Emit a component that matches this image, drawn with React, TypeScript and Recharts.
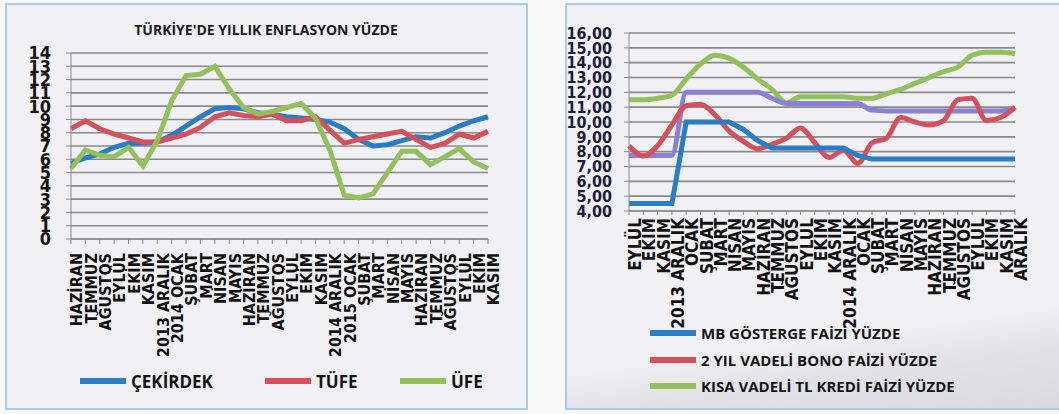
import React from "react";
import { LineChart, Line, XAxis, YAxis, CartesianGrid, Legend } from "recharts";

// Left chart: annual inflation, June 2013 - November 2015
const leftMonths = [
  "HAZİRAN", "TEMMUZ", "AĞUSTOS", "EYLÜL", "EKİM", "KASIM", "2013 ARALIK",
  "2014 OCAK", "ŞUBAT", "MART", "NİSAN", "MAYIS", "HAZİRAN", "TEMMUZ",
  "AĞUSTOS", "EYLÜL", "EKİM", "KASIM", "2014 ARALIK", "2015 OCAK", "ŞUBAT",
  "MART", "NİSAN", "MAYIS", "HAZİRAN", "TEMMUZ", "AĞUSTOS", "EYLÜL", "EKİM", "KASIM",
];
const cekirdek = [5.7, 6.1, 6.4, 6.9, 7.2, 7.2, 7.3, 7.8, 8.5, 9.2, 9.8, 9.9, 9.8, 9.5, 9.4, 9.2, 9.1, 9.0, 8.8, 8.3, 7.5, 7.0, 7.1, 7.4, 7.7, 7.6, 8.0, 8.5, 8.9, 9.2];
const tufe = [8.3, 8.9, 8.3, 7.9, 7.6, 7.3, 7.3, 7.6, 7.9, 8.4, 9.2, 9.5, 9.3, 9.2, 9.4, 8.9, 8.9, 9.2, 8.2, 7.2, 7.5, 7.7, 7.9, 8.1, 7.5, 6.9, 7.2, 7.9, 7.6, 8.1];
const ufe = [5.3, 6.7, 6.3, 6.2, 6.9, 5.5, 7.4, 10.4, 12.3, 12.4, 13.0, 11.3, 9.9, 9.4, 9.6, 9.9, 10.2, 9.1, 6.7, 3.3, 3.1, 3.4, 5.0, 6.6, 6.6, 5.6, 6.2, 6.8, 5.8, 5.3];
const leftTicks = [0, 1, 2, 3, 4, 5, 6, 7, 8, 9, 10, 11, 12, 13, 14];

// Right chart: interest rates, September 2013 - December 2015
const rightMonths = [
  "EYLÜL", "EKİM", "KASIM", "2013 ARALIK", "OCAK", "ŞUBAT", "MART", "NİSAN",
  "MAYIS", "HAZİRAN", "TEMMUZ", "AĞUSTOS", "EYLÜL", "EKİM", "KASIM",
  "2014 ARALIK", "OCAK", "ŞUBAT", "MART", "NİSAN", "MAYIS", "HAZİRAN",
  "TEMMUZ", "AĞUSTOS", "EYLÜL", "EKİM", "KASIM", "ARALIK",
];
const mbFaiz = [4.5, 4.5, 4.5, 4.5, 10, 10, 10, 10, 9.5, 8.75, 8.25, 8.25, 8.25, 8.25, 8.25, 8.25, 7.75, 7.5, 7.5, 7.5, 7.5, 7.5, 7.5, 7.5, 7.5, 7.5, 7.5, 7.5];
const bonoFaiz = [8.4, 7.7, 8.4, 9.8, 11.1, 11.2, 10.5, 9.4, 8.7, 8.2, 8.5, 8.9, 9.6, 8.6, 7.6, 8.1, 7.2, 8.6, 8.9, 10.3, 10.0, 9.8, 10.1, 11.5, 11.6, 10.1, 10.3, 11.0];
const krediFaiz = [11.5, 11.5, 11.6, 11.8, 12.9, 13.9, 14.5, 14.3, 13.7, 12.9, 12.2, 11.3, 11.7, 11.7, 11.7, 11.7, 11.6, 11.6, 11.9, 12.2, 12.6, 13.0, 13.4, 13.7, 14.5, 14.7, 14.7, 14.6];
const ustBant = [7.75, 7.75, 7.75, 7.75, 12, 12, 12, 12, 12, 12, 11.6, 11.25, 11.25, 11.25, 11.25, 11.25, 11.25, 10.8, 10.75, 10.75, 10.75, 10.75, 10.75, 10.75, 10.75, 10.75, 10.75, 10.9];
const rightTicks = [4, 5, 6, 7, 8, 9, 10, 11, 12, 13, 14, 15, 16];

const leftData = leftMonths.map((m, i) => ({ m, cekirdek: cekirdek[i], tufe: tufe[i], ufe: ufe[i] }));
const rightData = rightMonths.map((m, i) => ({ m, mb: mbFaiz[i], bono: bonoFaiz[i], kredi: krediFaiz[i], bant: ustBant[i] }));

const BLUE = "#2a7cc3";
const RED = "#d5505d";
const GREEN = "#93c05b";
const PURPLE = "#8a80d4";

const leftLegend = [
  { label: "ÇEKİRDEK", color: BLUE, x: 80 },
  { label: "TÜFE", color: RED, x: 265 },
  { label: "ÜFE", color: GREEN, x: 400 },
];
const rightLegend = [
  { label: "MB GÖSTERGE FAİZİ YÜZDE", color: BLUE },
  { label: "2 YIL VADELİ BONO FAİZİ YÜZDE", color: RED },
  { label: "KISA VADELİ TL KREDİ FAİZİ YÜZDE", color: GREEN },
];

const narrow = "'Liberation Sans Narrow', 'DejaVu Sans Condensed', sans-serif";
const legendFont = "'Open Sans', sans-serif";

const LeftLegendContent = () => (
  <div style={{ position: "relative", width: 530, height: 24 }}>
    {leftLegend.map((it) => (
      <div key={it.label} style={{ position: "absolute", left: it.x, top: 0, height: 24, display: "flex", alignItems: "center" }}>
        <span style={{ display: "inline-block", width: 46, height: 6, background: it.color, marginRight: 5 }} />
        <span style={{ fontFamily: legendFont, fontWeight: 700, fontSize: 17, color: "#151515" }}>{it.label}</span>
      </div>
    ))}
  </div>
);

const RightLegendContent = () => (
  <div style={{ position: "relative", width: 499, height: 80 }}>
    {rightLegend.map((it, i) => (
      <div key={it.label} style={{ position: "absolute", left: 90, top: i * 26.5, height: 26, display: "flex", alignItems: "center" }}>
        <span style={{ display: "inline-block", width: 46, height: 6, background: it.color, marginRight: 5 }} />
        <span style={{ fontFamily: legendFont, fontWeight: 700, fontSize: 15, color: "#151515" }}>{it.label}</span>
      </div>
    ))}
  </div>
);

const App: React.FC = () => {
  return (
    <div style={{ position: "absolute", left: 0, top: 0, width: 1059, height: 414, background: "#f8f8f9", overflow: "hidden" }}>
      <div style={{ position: "absolute", left: 5, top: 3, width: 523, height: 407, boxSizing: "border-box", border: "2px solid #a3cdea", background: "#f1f0f4" }} />
      <div style={{ position: "absolute", left: 565, top: 3, width: 500, height: 407, boxSizing: "border-box", border: "2px solid #a3cdea", background: "linear-gradient(172deg, #f1f0f4 78%, #e2e2e8 86%, #d9dae0 100%)" }} />

      <div style={{ position: "absolute", left: 0, top: 20, width: 532, textAlign: "center", fontFamily: legendFont, fontWeight: 700, fontSize: 14, color: "#1a1a1a" }}>
        TÜRKİYE'DE YILLIK ENFLASYON YÜZDE
      </div>

      <div style={{ position: "absolute", left: 0, top: 0 }}>
        <LineChart width={530} height={414} data={leftData} margin={{ top: 53, right: 42, left: 31, bottom: 21 }}>
          <CartesianGrid vertical={false} stroke="#8a8a8a" strokeWidth={1.6} />
          <XAxis
            dataKey="m"
            interval={0}
            height={130}
            tickSize={5}
            tickMargin={9}
            stroke="#8a8a8a"
            angle={-90}
            textAnchor="end"
            tick={{ angle: -90, textAnchor: "end", verticalAnchor: "middle", fontFamily: narrow, fontWeight: 700, fontSize: 16, fill: "#111" }}
          />
          <YAxis
            domain={[0, 14]}
            ticks={leftTicks}
            interval={0}
            width={40}
            tickSize={5}
            tickMargin={15}
            stroke="#8a8a8a"
            tick={{ fontFamily: narrow, fontWeight: 700, fontSize: 18, fill: "#151515" }}
          />
          <Legend verticalAlign="bottom" wrapperStyle={{ left: 0, bottom: 21 }} content={LeftLegendContent} />
          <Line type="linear" dataKey="cekirdek" name="ÇEKİRDEK" stroke={BLUE} strokeWidth={5} dot={false} isAnimationActive={false} />
          <Line type="linear" dataKey="tufe" name="TÜFE" stroke={RED} strokeWidth={5} dot={false} isAnimationActive={false} />
          <Line type="linear" dataKey="ufe" name="ÜFE" stroke={GREEN} strokeWidth={5} dot={false} isAnimationActive={false} />
        </LineChart>
      </div>

      <div style={{ position: "absolute", left: 560, top: 0 }}>
        <LineChart width={499} height={414} data={rightData} margin={{ top: 33, right: 44, left: 23, bottom: 14 }}>
          <CartesianGrid vertical={false} stroke="#8a8a8a" strokeWidth={1.6} />
          <XAxis
            dataKey="m"
            interval={0}
            height={109}
            tickSize={4}
            tickMargin={3}
            stroke="#8a8a8a"
            angle={-90}
            textAnchor="end"
            tick={{ angle: -90, textAnchor: "end", verticalAnchor: "middle", fontFamily: narrow, fontWeight: 700, fontSize: 17, fill: "#111" }}
          />
          <YAxis
            domain={[4, 16]}
            ticks={rightTicks}
            interval={0}
            width={46}
            tickSize={5}
            tickMargin={12}
            stroke="#8a8a8a"
            tickFormatter={(v: number) => v.toFixed(2).replace(".", ",")}
            tick={{ fontFamily: narrow, fontWeight: 700, fontSize: 16, fill: "#1b1d3d" }}
          />
          <Legend verticalAlign="bottom" wrapperStyle={{ left: 0, bottom: 14 }} content={RightLegendContent} />
          <Line type="monotone" dataKey="kredi" stroke={GREEN} strokeWidth={5} dot={false} isAnimationActive={false} />
          <Line type="monotone" dataKey="bant" stroke={PURPLE} strokeWidth={5} dot={false} legendType="none" isAnimationActive={false} />
          <Line type="monotone" dataKey="bono" stroke={RED} strokeWidth={5} dot={false} isAnimationActive={false} />
          <Line type="linear" dataKey="mb" stroke={BLUE} strokeWidth={5} dot={false} isAnimationActive={false} />
        </LineChart>
      </div>
    </div>
  );
};

export default App;
